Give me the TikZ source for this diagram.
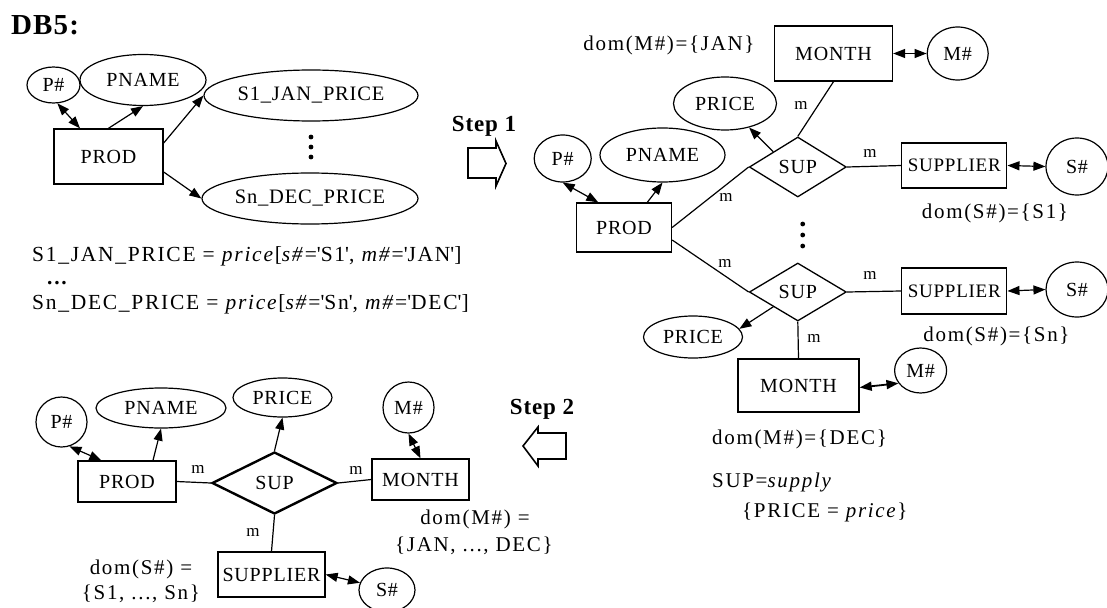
\documentclass[tikz,border=0pt]{standalone}
\usepackage{fontspec}
\setmainfont{Liberation Serif}[LetterSpace=4.0]
\newfontfamily\domfont{Liberation Serif}[LetterSpace=8.0]
\usetikzlibrary{shapes.geometric,arrows.meta}

\tikzset{
  base/.style={inner sep=0pt, font=\fontsize{20}{23}\selectfont},
  ent/.style={base, draw, rectangle, line width=1.3pt},
  att/.style={base, draw, ellipse, line width=1.2pt},
  rel/.style={base, draw, diamond, line width=1.3pt},
  mlbl/.style={inner sep=0pt, font=\fontsize{17}{20}\selectfont},
  txt/.style={inner sep=0pt, font=\domfont\fontsize{21}{24}\selectfont},
  eqn/.style={inner sep=0pt, anchor=base west, font=\domfont\fontsize{21.5}{25}\selectfont},
  steplbl/.style={inner sep=0pt, font=\bfseries\fontsize{23}{26}\selectfont},
  etip/.tip={Triangle[length=12pt,width=9pt]},
  arr/.style={-etip, line width=1.2pt},
  darr/.style={etip-etip, line width=1.2pt},
  link/.style={line width=1.2pt},
  bigarrow/.style={line width=1.6pt, line join=miter},
}

\begin{document}
\begin{tikzpicture}[x=1pt,y=-1pt]
\clip (0,0) rectangle (1107,607);

% ---------- initial schema ----------
\node[inner sep=0pt, font=\bfseries\fontsize{29}{32}\selectfont] (db) at (45,25) {DB5:};

\node[att, minimum width=53pt, minimum height=36pt] (tlP) at (53.5,85) {P\#};
\node[att, minimum width=126pt, minimum height=51pt] (tlPN) at (143,80) {PNAME};
\node[ent, minimum width=109pt, minimum height=55pt, line width=1.4pt] (tlPROD) at (108.5,156.5) {PROD};
\node[att, minimum width=214pt, minimum height=51pt, font=\fontsize{20.5}{23}\selectfont] (tlS1) at (311,95.5) {S1\_JAN\_PRICE};
\node[att, minimum width=216pt, minimum height=51pt, font=\fontsize{20.5}{23}\selectfont] (tlSn) at (310,198.5) {Sn\_DEC\_PRICE};
\foreach \yy in {137,147,157} \fill (311,\yy) circle (2.4);

\draw[darr] (tlP.-78) -- ([xshift=-28.5pt]tlPROD.north);
\draw[arr] (tlPROD.north) -- (tlPN.south);
\draw[arr] ([yshift=13.5pt]tlPROD.east) -- (tlS1.west);
\draw[arr] ([yshift=-15.5pt]tlPROD.east) -- (tlSn.west);

\node[eqn] (eq1) at (32,261) {S1\_JAN\_PRICE = \textit{price}[\textit{s\#}=\textquotesingle S1\textquotesingle, \textit{m\#}=\textquotesingle JAN\textquotesingle]};
\node[eqn] (eq2) at (47,284) {\textbf{...}};
\node[eqn] (eq3) at (32,309) {Sn\_DEC\_PRICE = \textit{price}[\textit{s\#}=\textquotesingle Sn\textquotesingle, \textit{m\#}=\textquotesingle DEC\textquotesingle]};

% ---------- step 1 ----------
\node[steplbl] (st1) at (484,126) {Step 1};
\draw[bigarrow] (468,148) -- (496,148) -- (496,141) -- (506,163.5) -- (496,186) -- (496,178) -- (468,178) -- cycle;

% ---------- intermediate schema ----------
\node[txt] (domJ) at (669,45) {dom(M\#)=\{JAN\}};
\node[ent, minimum width=118pt, minimum height=55pt] (mon1) at (833.5,53.5) {MONTH};
\node[att, minimum width=61pt, minimum height=53pt] (m1) at (957.7,53.5) {M\#};
\node[att, minimum width=103pt, minimum height=53pt] (pr1) at (725,103.5) {PRICE};
\node[rel, minimum width=97pt, minimum height=60pt] (sup1) at (797.8,167) {SUP};
\node[ent, minimum width=105pt, minimum height=45pt, font=\fontsize{19}{22}\selectfont] (spl1) at (954.3,165.5) {SUPPLIER};
\node[att, minimum width=62pt, minimum height=57pt] (s1) at (1077,166.5) {S\#};
\node[txt] (domS1) at (995,213) {dom(S\#)=\{S1\}};
\node[att, minimum width=57pt, minimum height=47pt] (trP) at (562.7,158.5) {P\#};
\node[att, minimum width=125pt, minimum height=54pt] (trPN) at (662.5,155) {PNAME};
\node[ent, minimum width=95pt, minimum height=49pt] (trPROD) at (624,227.5) {PROD};
\foreach \yy in {224,235,246} \fill (802.7,\yy) circle (2.4);
\node[rel, minimum width=97pt, minimum height=58pt] (sup2) at (797.8,292) {SUP};
\node[ent, minimum width=105pt, minimum height=46pt, font=\fontsize{19}{22}\selectfont] (spl2) at (954.3,291) {SUPPLIER};
\node[att, minimum width=62pt, minimum height=55pt] (s2) at (1077,289.5) {S\#};
\node[txt] (domSn) at (996.5,336) {dom(S\#)=\{Sn\}};
\node[att, minimum width=99pt, minimum height=42pt] (pr2) at (693,337) {PRICE};
\node[ent, minimum width=121pt, minimum height=53pt] (mon2) at (798.5,385.5) {MONTH};
\node[att, minimum width=52pt, minimum height=45pt] (m2) at (920.6,370.5) {M\#};
\node[txt, anchor=base west] (domD) at (712,444) {dom(M\#)=\{DEC\}};
\node[txt, anchor=base west] (supdef) at (712,487) {SUP=\textit{supply}};
\node[txt, anchor=base west] (pricedef) at (742,517) {\{PRICE = \textit{price}\}};

\draw[darr] (mon1.east) -- (m1.west);
\draw[link] (mon1.south) -- (sup1.north);
\node[mlbl] (ma) at (801,105) {m};
\draw[arr] (sup1.north west) -- (pr1);
\draw[link] (sup1.east) -- (spl1.west);
\node[mlbl] (mb) at (870,153) {m};
\draw[darr] (spl1.east) -- (s1.west);
\draw[darr] (trP.south) -- ([xshift=22.4pt]trPROD.north west);
\draw[arr] ([xshift=23.3pt]trPROD.north) -- (trPN.south);
\draw[link] (trPROD.east) -- (sup1.west);
\node[mlbl] (mc) at (726,197) {m};
\draw[link] ([yshift=-12.5pt]trPROD.east) -- (sup2.west);
\node[mlbl] (md) at (725,263) {m};
\draw[link] (sup2.east) -- (spl2.west);
\node[mlbl] (me) at (870,275) {m};
\draw[darr] (spl2.east) -- (s2.west);
\draw[arr] (sup2.south west) -- (pr2.10);
\draw[link] (sup2.south) -- (mon2.north);
\node[mlbl] (mf) at (814,338) {m};
\draw[darr, line width=1.8pt] ([yshift=-2pt]mon2.east) -- (m2.210);

% ---------- step 2 ----------
\node[steplbl] (st2) at (542,409) {Step 2};
\draw[bigarrow] (566,433) -- (538,433) -- (538,427) -- (523,446) -- (538,466) -- (538,459) -- (566,459) -- cycle;

% ---------- final schema ----------
\node[att, minimum width=51pt, minimum height=50pt] (blP) at (61.5,422) {P\#};
\node[att, minimum width=130pt, minimum height=40pt] (blPN) at (161,408) {PNAME};
\node[att, minimum width=99pt, minimum height=39pt] (blPR) at (282.5,397.5) {PRICE};
\node[att, minimum width=51pt, minimum height=51pt] (blM) at (408.5,407.5) {M\#};
\node[ent, minimum width=98pt, minimum height=41pt] (blPROD) at (127,481.5) {PROD};
\node[rel, minimum width=125pt, minimum height=62pt, line width=2.4pt] (blSUP) at (274.5,483) {SUP};
\node[ent, minimum width=97pt, minimum height=41pt] (blMON) at (420.5,479.5) {MONTH};
\node[ent, minimum width=107pt, minimum height=45pt] (blSPL) at (271.5,574.5) {SUPPLIER};
\node[att, minimum width=56pt, minimum height=44pt] (blS) at (387,590) {S\#};

\draw[link] (blPROD.east) -- (blSUP.west);
\node[mlbl] (mg) at (198,469) {m};
\draw[link] (blSUP.east) -- (blMON.west);
\node[mlbl] (mh) at (356,470) {m};
\draw[link] (blSUP.south) -- (blSPL.north);
\node[mlbl] (mi) at (253,532) {m};
\draw[darr] (blP.-72) -- ([xshift=24pt]blPROD.north west);
\draw[arr] ([xshift=26pt]blPROD.north) -- (blPN.south);
\draw[arr] (blSUP.north) -- (blPR.south);
\draw[darr] (blM.south) -- (blMON.north);
\draw[darr] (blSPL.east) -- (blS.165);

\node[txt] (domS) at (141,569) {dom(S\#) =};
\node[txt] (domSv) at (141,594) {\{S1, ..., Sn\}};
\node[txt] (domM) at (475,519) {dom(M\#) =};
\node[txt] (domMv) at (474,546) {\{JAN, ..., DEC\}};
\end{tikzpicture}
\end{document}
